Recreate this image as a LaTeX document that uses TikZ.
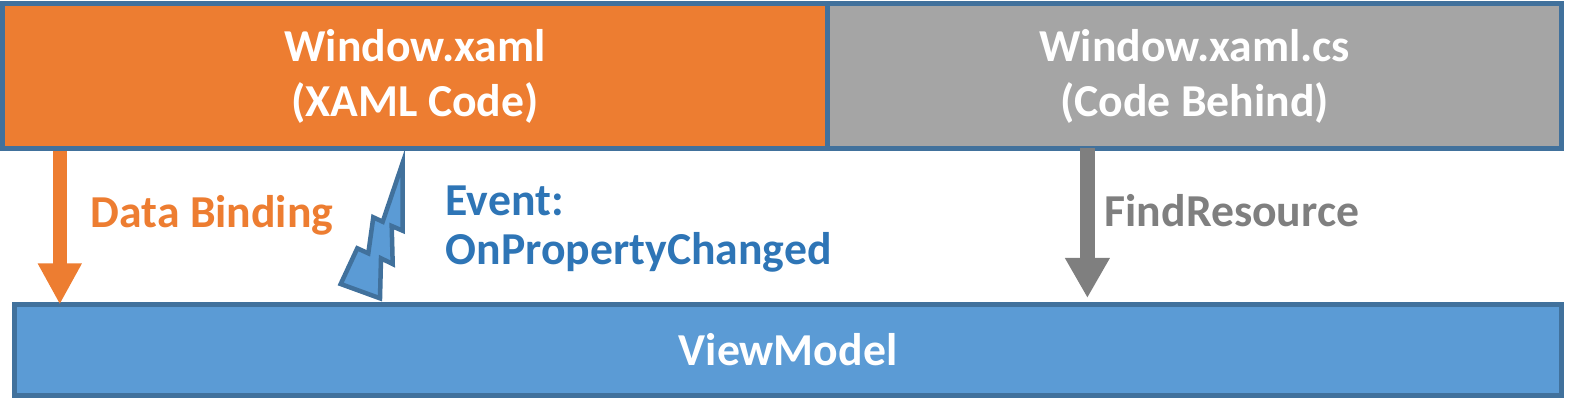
\documentclass[tikz,border=0pt]{standalone}
\usepackage{fontspec}
\setmainfont{Carlito}
\usetikzlibrary{positioning,arrows.meta}

\definecolor{xamlorange}{HTML}{ED7D31}
\definecolor{codegray}{HTML}{A5A5A5}
\definecolor{vmblue}{HTML}{5B9BD5}
\definecolor{frameblue}{HTML}{41719C}
\definecolor{eventblue}{HTML}{2E75B6}
\definecolor{findgray}{HTML}{7F7F7F}

\begin{document}
\begin{tikzpicture}[
    x=0.01cm, y=-0.01cm,
    % Boxes with a dark blue frame
    layer_box/.style={rectangle, draw=frameblue, line width=0.05cm, outer sep=0pt,
                     inner sep=0pt, align=center, text=white,
                     font=\fontsize{13}{15.6}\selectfont\bfseries},
    xaml_box/.style={layer_box, fill=xamlorange, minimum width=8.25cm, minimum height=1.44cm},
    code_box/.style={layer_box, fill=codegray, minimum width=7.335cm, minimum height=1.44cm},
    vm_box/.style={layer_box, fill=vmblue, minimum width=15.47cm, minimum height=0.91cm},
    label_text/.style={inner sep=0pt, font=\fontsize{13}{13.7}\selectfont\bfseries, align=left},
    bind_arrow/.style={-{Triangle[width=0.41cm,length=0.41cm]}, draw=xamlorange, line width=0.14cm},
    find_arrow/.style={-{Triangle[width=0.42cm,length=0.40cm]}, draw=findgray, line width=0.15cm}
]
\useasboundingbox (0,0) rectangle (1575,405);

% Top row: XAML and code behind
\node[xaml_box] (xaml) at (415,76) {Window.xaml\\(XAML Code)};
\node[code_box, right=0pt of xaml] (behind) {Window.xaml.cs\\(Code Behind)};

% Bottom row: view model
\node[vm_box] (vm) at (788,350) {ViewModel};

% Data binding arrow
\coordinate (bind_top) at ([xshift=0.575cm,yshift=-0.03cm]xaml.south west);
\draw[bind_arrow] (bind_top) -- (bind_top |- vm.north);
\node[label_text, text=xamlorange, anchor=base west] (bind_lbl) at (90,227) {Data Binding};

% Event bolt
\draw[fill=vmblue, draw=frameblue, line width=0.045cm, line join=miter]
    (402.7,162.7) -- (402.7,230.7) -- (391.7,226) -- (392.7,264) -- (381,258.3)
    -- (380,298.3) -- (340.7,284) -- (357.3,248.3) -- (368.3,253.3)
    -- (373.3,217.3) -- (382.7,221.7) -- cycle;
\node[label_text, text=eventblue, anchor=base west] (event_lbl) at (445,264) {Event:\\OnPropertyChanged};

% FindResource arrow
\coordinate (find_top) at ([xshift=2.595cm]behind.south west);
\draw[find_arrow] (find_top) -- ([yshift=0.065cm]find_top |- vm.north);
\node[label_text, text=findgray, anchor=base west] (find_lbl) at (1104,226) {FindResource};

\end{tikzpicture}
\end{document}
